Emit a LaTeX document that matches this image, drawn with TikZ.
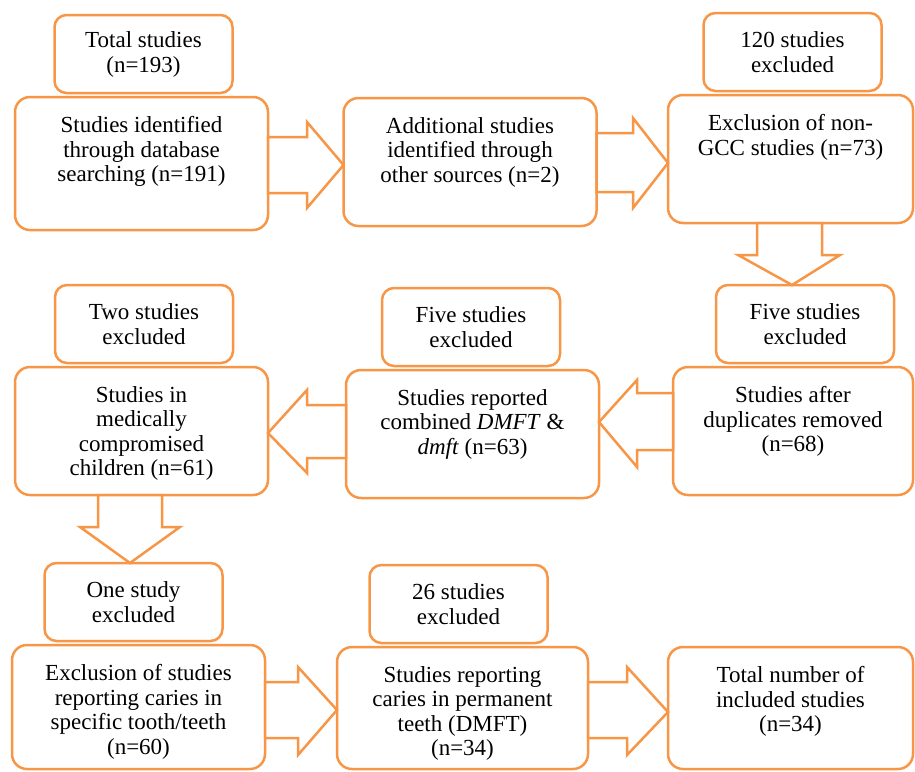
\documentclass[tikz,border=0pt]{standalone}
\usepackage{fontspec}
\setmainfont{Liberation Serif}
\usetikzlibrary{positioning}
\definecolor{ora}{RGB}{247,150,70}
\newcommand{\toptext}[2][89pt]{\parbox[t][#1][t]{220pt}{\centering #2}}

\begin{document}
\begin{tikzpicture}[x=1pt, y=-1pt,
  stage/.style={draw=ora, line width=2.5pt, rounded corners=15pt, fill=white, inner xsep=2pt, inner ysep=19.5pt, minimum width=253pt, outer sep=0pt, anchor=north, font=\fontsize{23}{24.5}\selectfont},
  note/.style={draw=ora, line width=2.5pt, rounded corners=12pt, fill=white, align=center, minimum width=178pt, minimum height=78pt, outer sep=0pt, font=\fontsize{23}{25}\selectfont},
  blk/.style={draw=ora, line width=2.5pt, fill=white, line join=miter}
]
\useasboundingbox (0,0) rectangle (915,771);

\node[stage] (ident) at (141.5,97) {\toptext[94pt]{Studies identified\\through database\\searching (n=191)}};
\node[stage] (other) at (470,98) {\toptext{Additional studies\\identified through\\other sources (n=2)}};
\node[stage, minimum width=245pt] (nongcc) at (790.5,95) {\toptext{Exclusion of non-\\GCC studies (n=73)}};
\node[stage] (medical) at (141.5,367) {\toptext{Studies in\\medically\\compromised\\children (n=61)}};
\node[stage] (combined) at (472.5,370) {\toptext{Studies reported\\combined \textit{DMFT} \&\\\textit{dmft} (n=63)}};
\node[stage, minimum width=240pt] (dups) at (793,367) {\toptext{Studies after\\duplicates removed\\(n=68)}};
\node[stage] (tooth) at (138.5,645) {\toptext[85pt]{Exclusion of studies\\reporting caries in\\specific tooth/teeth\\(n=60)}};
\node[stage, minimum width=251pt] (perm) at (462.5,647) {\toptext[83pt]{Studies reporting\\caries in permanent\\teeth (DMFT)\\(n=34)}};
\node[stage, minimum width=245pt] (final) at (790.5,647) {\toptext[83pt]{Total number of\\included studies\\(n=34)}};

\node[note, above=4pt of ident, xshift=2pt] (nident) {Total studies\\(n=193)};
\node[note, above=4pt of nongcc, xshift=2pt] (nnongcc) {120 studies\\excluded};
\node[note, above=4pt of dups, xshift=12pt] (ndups) {Five studies\\excluded};
\node[note, above=4pt of combined, xshift=-1.5pt] (ncombined) {Five studies\\excluded};
\node[note, above=4pt of medical, xshift=2.5pt] (nmedical) {Two studies\\excluded};
\node[note, above=4pt of tooth, xshift=-5pt] (ntooth) {One study\\excluded};
\node[note, above=4pt of perm, xshift=-4pt] (nperm) {26 studies\\excluded};

% top row, left to right
\draw[blk] (ident.east |- 0,137) -- (307,137) -- (307,122) -- (other.west |- 0,165) -- (307,208) -- (307,193) -- (ident.east |- 0,193) -- cycle;
\draw[blk] (other.east |- 0,133) -- (633,133) -- (633,118) -- (nongcc.west |- 0,163) -- (633,208) -- (633,192) -- (other.east |- 0,192) -- cycle;
% down on the right
\draw[blk] (nongcc.south -| 757,0) -- (757,255) -- (738,255) -- (ndups.north -| 792,0) -- (840,255) -- (822,255) -- (nongcc.south -| 822,0) -- cycle;
% middle row, right to left
\draw[blk] (dups.west |- 0,393) -- (637,393) -- (637,380) -- (combined.east |- 0,422) -- (637,467) -- (637,450) -- (dups.west |- 0,450) -- cycle;
\draw[blk] (combined.west |- 0,405) -- (307,405) -- (307,390) -- (medical.east |- 0,433) -- (307,473) -- (307,458) -- (combined.west |- 0,458) -- cycle;
% down on the left
\draw[blk] (medical.south -| 98,0) -- (98,527) -- (80,527) -- (ntooth.north -| 130,0) -- (180,527) -- (162,527) -- (medical.south -| 162,0) -- cycle;
% bottom row
\draw[blk] (tooth.east |- 0,682) -- (298,682) -- (298,667) -- (perm.west |- 0,710) -- (298,755) -- (298,738) -- (tooth.east |- 0,738) -- cycle;
\draw[blk] (perm.east |- 0,682) -- (627,682) -- (627,667) -- (final.west |- 0,712) -- (627,755) -- (627,738) -- (perm.east |- 0,738) -- cycle;
\end{tikzpicture}
\end{document}
